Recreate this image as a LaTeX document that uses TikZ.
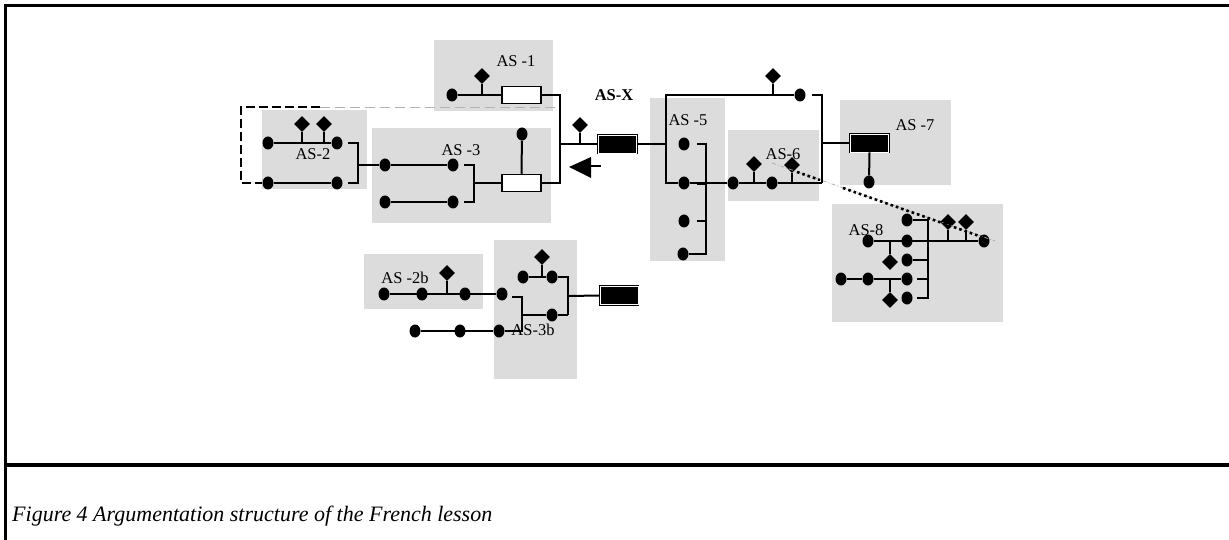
\documentclass[tikz,border=0pt]{standalone}
\usepackage{fontspec}
\setmainfont{Liberation Serif}
\usetikzlibrary{shapes.geometric}
\definecolor{boxgray}{RGB}{220,220,220}
\tikzset{
 dotn/.style={ellipse, fill=black, minimum width=11pt, minimum height=13pt, inner sep=0pt},
 dia/.style={diamond, fill=black, minimum width=16pt, minimum height=16pt, inner sep=0pt},
 ln/.style={line width=2pt},
 wrect/.style={draw=black, fill=white, line width=1.5pt, minimum width=39pt, minimum height=17pt, inner sep=0pt},
 brect/.style={draw=black, fill=black, double=white, double distance=0.5pt, line width=0.8pt, minimum width=38pt, minimum height=18pt, inner sep=0pt},
 gbox/.style={fill=boxgray},
 lbl/.style={font=\fontsize{16.5}{16.5}\selectfont, inner sep=0pt},
 frame/.style={line width=3.2pt},
 bdash/.style={line width=1.8pt, dash pattern=on 9pt off 4pt},
 gdash/.style={line width=0.9pt, draw=gray!60, dash pattern=on 10pt off 5pt},
 gdot/.style={line width=0.7pt, draw=gray!70, dash pattern=on 4pt off 2pt on 1pt off 2pt},
 kdot/.style={line width=2.6pt, dash pattern=on 2.6pt off 3pt},
}
\begin{document}
\begin{tikzpicture}[x=1pt,y=-1pt]
\useasboundingbox (0,0) rectangle (1229,540);
% frame
\draw[frame] (5.5,540) -- (5.5,5.5) -- (1229,5.5);
\draw[frame] (5.5,465) -- (1229,465);
\node[anchor=west, inner sep=0pt, font=\fontsize{22}{22}\selectfont\itshape] (cap) at (12,516) {Figure 4 Argumentation structure of the French lesson};
% gray boxes
\fill[gbox] (434,40) rectangle (553,111);
\fill[gbox] (262,110) rectangle (367,189);
\fill[gbox] (372,128) rectangle (551,223);
\fill[gbox] (650,98) rectangle (725,261);
\fill[gbox] (728,130) rectangle (819,201);
\fill[gbox] (840,100) rectangle (951,185);
\fill[gbox] (832,204) rectangle (1003,322);
\fill[gbox] (364,254) rectangle (483,309);
\fill[gbox] (494,240) rectangle (577,379);
% dashed link AS-2 / AS-1
\coordinate (dk1) at (320,107);
\coordinate (dk2) at (241,107);
\coordinate (dk3) at (241,183);
\coordinate (dg1) at (560,107);
\draw[gdash] (dk1) -- (dg1);
% ---------- AS-1 ----------
\node[dotn] (a1) at (452,95) {};
\node[dia] (d1) at (482,76) {};
\node[wrect] (r1) at (521.5,95) {};
\coordinate (j1) at (482,95);
\node[lbl] (l1) at (516,61) {AS -1};
% ---------- AS-3 ----------
\node[dotn] (a3a) at (385,165) {};
\node[dotn] (a3b) at (453,165) {};
\node[dotn] (a3c) at (385,202) {};
\node[dotn] (a3d) at (453,202) {};
\node[wrect] (r3) at (521.5,183) {};
\node[dotn] (a3e) at (522,134) {};
\node[lbl] (l3) at (461,150) {AS -3};
% ---------- AS-2 ----------
\node[dotn] (a2a) at (268,143) {};
\node[dotn] (a2b) at (337,143) {};
\node[dotn] (a2c) at (268,183) {};
\node[dotn] (a2d) at (337,183) {};
\node[dia] (d2a) at (302,124) {};
\node[dia] (d2b) at (324,124) {};
\node[lbl] (l2) at (313,154) {AS-2};
\draw[bdash] (dk1) -- (dk2) -- (dk3) -- (a2c);
% ---------- AS-X ----------
\coordinate (jr1) at (560,95);
\coordinate (jr2) at (560,183);
\coordinate (jrx) at (560,144);
\node[brect] (rx) at (617.5,144) {};
\node[dia] (dx) at (580,125) {};
\node[font=\fontsize{16.5}{16.5}\selectfont\bfseries, inner sep=0pt] (lx) at (614,95) {AS-X};
% ---------- AS-5 ----------
\node[dotn] (a5a) at (684,144) {};
\node[dotn] (a5b) at (684,183) {};
\node[dotn] (a5c) at (684,221) {};
\node[dotn] (a5d) at (683,254) {};
\node[lbl] (l5) at (688,120) {AS -5};
\coordinate (v5t) at (666,95);
\coordinate (v5m) at (666,144);
\coordinate (v5b) at (666,183);
% top line
\node[dotn] (at) at (800,95) {};
\node[dia] (dt) at (773,76) {};
% ---------- AS-6 ----------
\node[dotn] (a6a) at (733,183) {};
\node[dotn] (a6b) at (772,183) {};
\node[dia] (d6a) at (754,164) {};
\node[dia] (d6b) at (792,165) {};
\node[lbl] (l6) at (783,154) {AS-6};
% ---------- AS-7 ----------
\node[brect] (r7) at (869.5,143) {};
\node[dotn] (a7) at (869,182) {};
\node[lbl] (l7) at (915,125) {AS -7};
% ---------- AS-8 ----------
\node[dotn] (e1) at (907,220) {};
\node[dotn] (e2) at (907,241) {};
\node[dotn] (e3) at (907,260) {};
\node[dotn] (e4) at (907,279) {};
\node[dotn] (e5) at (907,298) {};
\node[dotn] (e6) at (868,241) {};
\node[dotn] (e7) at (841,279) {};
\node[dotn] (e8) at (868,279) {};
\node[dotn] (e9) at (984,241) {};
\node[dia] (f1) at (948,222) {};
\node[dia] (f2) at (966,222) {};
\node[dia] (f3) at (890,262) {};
\node[dia] (f4) at (890,300) {};
\node[lbl] (l8) at (866,230) {AS-8};
% ---------- AS-2b ----------
\node[dotn] (b1) at (384,294) {};
\node[dotn] (b2) at (422,294) {};
\node[dotn] (b3) at (465,294) {};
\node[dotn] (b4) at (502,294) {};
\node[dia] (db) at (447,273) {};
\node[lbl] (lb) at (405,278) {AS -2b};
\node[dotn] (c1) at (415,331) {};
\node[dotn] (c2) at (460,331) {};
\node[dotn] (c3) at (499,331) {};
% ---------- AS-3b ----------
\node[dotn] (c5) at (523,277) {};
\node[dotn] (c6) at (552,277) {};
\node[dotn] (c4) at (552,315) {};
\node[dia] (dc) at (542,257) {};
\node[brect] (r3b) at (619,295.5) {};
% ---------- connectors ----------
\begin{scope}[ln]
% AS-1
\draw (a1) -- (r1.west);
\draw (j1) -- (d1.south);
\draw (r1.east) -- (jr1) -- (jr2) -- (r3.east);
% AS-2
\draw (a2a) -- (a2b);
\draw (a2c) -- (a2d);
\draw (302,143) -- (d2a.south);
\draw (324,143) -- (d2b.south);
\draw (348,143) -- (358,143) -- (358,183) -- (348,183);
\draw (358,165) -- (a3a);
% AS-3
\draw (a3a) -- (a3b);
\draw (a3c) -- (a3d);
\draw (464,165) -- (474,165) -- (474,202) -- (464,202);
\draw (474,183) -- (r3.west);
\draw (r3.north) -- (a3e);
% AS-X
\draw (jrx) -- (rx.west);
\draw (580,144) -- (dx.south);
\draw (rx.east) -- (v5m);
% AS-5
\draw (at) -- (v5t) -- (v5b) -- (a5b);
\draw (773,95) -- (dt.south);
\draw (697,144) -- (706,144) -- (706,254) -- (a5d);
\draw (697,221) -- (706,221);
\draw (697,183.8) -- (706,183.8);
% AS-6
\draw (a5b) -- (a6a) -- (a6b) -- (822,183);
\draw (754,183) -- (d6a.south);
\draw (792,183) -- (d6b.south);
\draw (812,95) -- (822,95) -- (822,183);
\draw (822,143) -- (r7.west);
% AS-7
\draw (r7.south) -- (a7);
% AS-8
\draw (e1) -- (928,220) -- (928,299);
\draw (e3) -- (928,260);
\draw (917,279) -- (928,279);
\draw (917,298) -- (928,298);
\draw (e6) -- (e9);
\draw (948,241) -- (f1.south);
\draw (966,241) -- (f2.south);
\draw (890,241) -- (f3.north);
\draw (e7) -- (e8) -- (e4);
\draw (890,279) -- (f4.north);
% AS-2b
\draw (b1) -- (b4);
\draw (447,294) -- (db.south);
\draw (c1) -- (c3);
\draw (512,297) -- (522,297) -- (522,331) -- (c3);
\draw (522,315) -- (c4) -- (568,315);
\draw (c5) -- (c6) -- (568,277) -- (568,315);
\draw (542,277) -- (dc.south);
\draw (568,296) -- (r3b.west);
\end{scope}
\node[lbl] (l3b) at (533,330) {AS-3b};
% arrow
\fill (569,167) -- (591,157) -- (591,178) -- cycle;
\draw[ln] (590,166) -- (601,166);
% dotted link AS-6 / AS-8
\coordinate (g1) at (772,163);
\coordinate (g2) at (995,241);
\draw[gdot] (g1) -- (g2);
\draw[kdot] (797,172) -- (820,180);
\draw[kdot] (843,188) -- (982,237);
\end{tikzpicture}
\end{document}
